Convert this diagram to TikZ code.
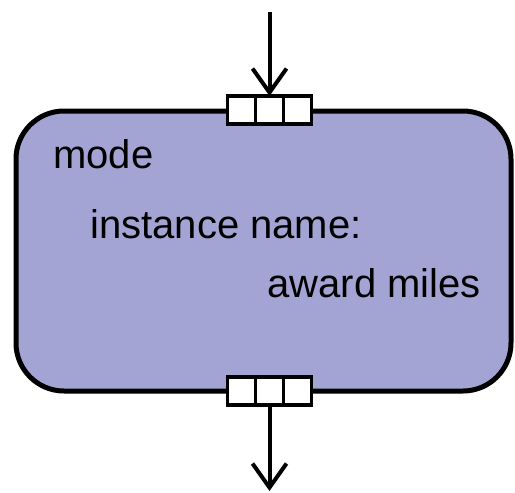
\documentclass[tikz,border=0pt]{standalone}
\usepackage{fontspec}
\setsansfont{Liberation Sans}
\usepackage{tikz}
\usetikzlibrary{arrows.meta,positioning}
\definecolor{modefill}{RGB}{164,164,212}
\tikzset{
  modebox/.style={draw=black, fill=modefill, rounded corners=24pt, line width=2.5pt, minimum width=247.5pt, minimum height=140pt, inner sep=0pt},
  pincell/.style={draw=black, fill=white, line width=1.8pt, minimum width=14pt, minimum height=14pt, inner sep=0pt, outer sep=0pt},
  arrow/.style={-{Straight Barb[length=12pt,width=17pt]}, line width=2pt}
}

\begin{document}
\begin{tikzpicture}[x=0.5pt, y=-0.5pt, lbl/.style={font=\sffamily\fontsize{20}{24}\selectfont, anchor=base west, inner sep=0pt}]
\useasboundingbox (0,0) rectangle (515,493);
\node[modebox] (mode) at (263.5,251) {};
% pins on top and bottom
\node[pincell] (tin) at (269.5,110) {};
\node[pincell, left=0pt of tin] (tinl) {};
\node[pincell, right=0pt of tin] (tinr) {};
\node[pincell] (bout) at (269.5,391) {};
\node[pincell, left=0pt of bout] (boutl) {};
\node[pincell, right=0pt of bout] (boutr) {};
\coordinate (src) at (269.5,12);
\coordinate (dst) at (269.5,491);
\draw[arrow] (src) -- (tin.north);
\draw[arrow] (bout.south) -- (dst);
\node[lbl] (kind) at (53,168) {mode};
\node[lbl] (iname) at (90,238) {instance name:};
\node[lbl] (ival) at (267,297) {award miles};
\end{tikzpicture}
\end{document}
